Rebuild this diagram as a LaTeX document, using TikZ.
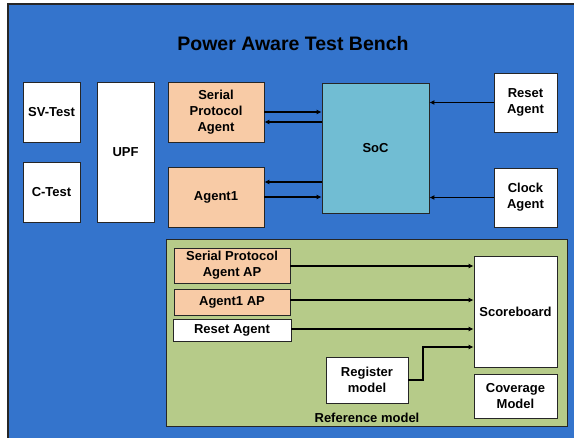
\documentclass[tikz,border=0pt]{standalone}
\usepackage{fontspec}
\setmainfont{Liberation Sans}
\usetikzlibrary{arrows.meta}
\definecolor{benchblue}{HTML}{3474CC}
\definecolor{peach}{HTML}{F8CBA6}
\definecolor{socblue}{HTML}{71BDD3}
\definecolor{refgreen}{HTML}{B6CB89}
\tikzset{
  box/.style={draw=black!85, line width=0.8pt, fill=white, align=center,
    inner sep=0pt, font=\bfseries\fontsize{13}{16}\selectfont},
  agentbox/.style={box, fill=peach},
  arr/.style={-{Latex[length=5pt,width=5pt]}, line width=1.1pt, black}
}
\begin{document}
\begin{tikzpicture}[x=1pt,y=-1pt]
  \useasboundingbox (0,0) rectangle (574,438);
  \fill[white] (0,0) rectangle (574,438);
  % test bench frame
  \fill[benchblue] (8,4) rectangle (576,440);
  \draw[black!85, line width=1.2pt] (8,440) -- (8,4) -- (576,4);
  \node[font=\bfseries\fontsize{19.5}{22}\selectfont] (title) at (293,44) {Power Aware Test Bench};

  % tests and power format
  \node[box, minimum width=57pt, minimum height=60pt] (svt) at (51.5,112) {SV-Test};
  \node[box, minimum width=57pt, minimum height=60pt] (ct) at (51.5,192) {C-Test};
  \node[box, minimum width=57pt, minimum height=140pt] (upf) at (125.5,152) {UPF};

  % agents around the SoC
  \node[agentbox, minimum width=96pt, minimum height=60pt] (spa) at (216,112) {Serial\\Protocol\\Agent};
  \node[agentbox, minimum width=96pt, minimum height=60pt] (ag1) at (216,197) {Agent1};
  \node[box, fill=socblue, minimum width=107pt, minimum height=130pt] (soc) at (375.5,148) {SoC};
  \node[box, minimum width=63pt, minimum height=59pt] (rst) at (525.5,102.5) {Reset\\Agent};
  \node[box, minimum width=63pt, minimum height=59pt] (clk) at (525.5,197.5) {Clock\\Agent};

  \draw[arr] (spa.east) -- (spa.east -| soc.west);
  \draw[arr] ([yshift=-10pt]spa.east -| soc.west) -- ([yshift=-10pt]spa.east);
  \draw[arr] ([yshift=15pt]ag1.east -| soc.west) -- ([yshift=15pt]ag1.east);
  \draw[arr] (ag1.east) -- (ag1.east -| soc.west);
  \draw[arr] (rst.west) -- (rst.west -| soc.east);
  \draw[arr] (clk.west) -- (clk.west -| soc.east);

  % reference model
  \node[draw=black!85, line width=0.8pt, fill=refgreen, minimum width=401pt,
        minimum height=187pt, inner sep=0pt] (ref) at (366.5,332.5) {};
  \node[font=\bfseries\fontsize{13}{16}\selectfont] (reflabel) at (367,418) {Reference model};

  \node[agentbox, minimum width=116pt, minimum height=35pt] (spaap) at (232,265.5) {Serial Protocol\\Agent AP};
  \node[agentbox, minimum width=116pt, minimum height=26pt] (ag1ap) at (232,302) {Agent1 AP};
  \node[box, minimum width=118pt, minimum height=22pt] (rstap) at (232,330) {Reset Agent};
  \node[box, minimum width=82pt, minimum height=46pt] (reg) at (367,380) {Register\\model};
  \node[box, minimum width=83pt, minimum height=111pt] (sb) at (515.5,311.5) {Scoreboard};
  \node[box, minimum width=83pt, minimum height=44pt] (cov) at (515.5,396) {Coverage\\Model};

  \coordinate (bend) at (423,347);
  \draw[arr] ([yshift=-0.5pt]spaap.east) -- ([yshift=-0.5pt]spaap.east -| sb.west);
  \draw[arr] ([yshift=2pt]ag1ap.east) -- ([yshift=2pt]ag1ap.east -| sb.west);
  \draw[arr] ([yshift=1pt]rstap.east) -- ([yshift=1pt]rstap.east -| sb.west);
  \draw[arr] (reg.east) -| (bend) -- (bend -| sb.west);
\end{tikzpicture}
\end{document}
